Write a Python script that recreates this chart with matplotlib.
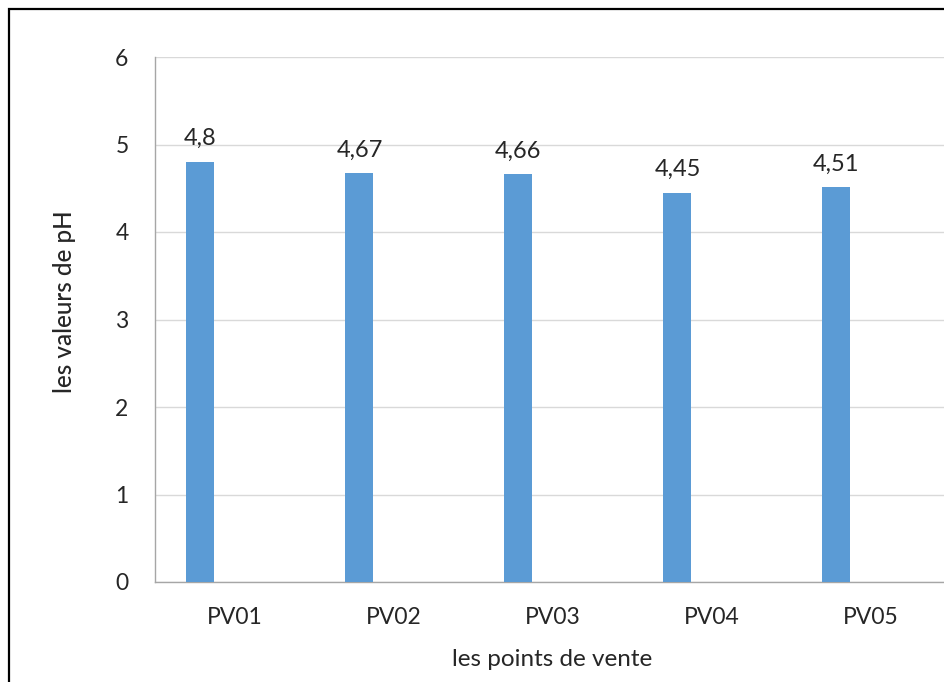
import numpy as np
import matplotlib.pyplot as plt
from matplotlib.patches import Rectangle

# valeurs de pH par point de vente
points = ["PV01", "PV02", "PV03", "PV04", "PV05"]
ph = [4.8, 4.67, 4.66, 4.45, 4.51]
ph_labels = ["4,8", "4,67", "4,66", "4,45", "4,51"]
yticks = [0, 1, 2, 3, 4, 5, 6]

plt.rcParams['font.family'] = ['Lato', 'DejaVu Sans']
txt = "#262626"

fig = plt.figure(figsize=(9.45, 6.82), dpi=100)
ax = fig.add_axes([155 / 945, 1 - 582 / 682, 795 / 945, 525 / 682])

x = np.arange(len(points))
bars = ax.bar(x - 0.214, ph, width=0.176, color="#5B9BD5", zorder=3)

for b, lab in zip(bars, ph_labels):
    ax.annotate(lab, (b.get_x() + b.get_width() / 2, b.get_height()),
                xytext=(0, 12), textcoords="offset points",
                ha="center", va="baseline", fontsize=17, color=txt)

ax.set_xlim(-0.5, len(points) - 0.5)
ax.set_ylim(0, 6)
ax.set_yticks(yticks)
ax.set_xticks(x)
ax.set_xticklabels(points)
ax.tick_params(axis="both", length=0, labelsize=16.5, colors=txt)
ax.tick_params(axis="y", pad=19)
ax.tick_params(axis="x", pad=18)
ax.yaxis.grid(True, color="#d9d9d9", linewidth=1, zorder=0)

for s in ["top", "right"]:
    ax.spines[s].set_visible(False)
for s in ["left", "bottom"]:
    ax.spines[s].set_color("#a6a6a6")
    ax.spines[s].set_linewidth(1)

ax.set_ylabel("les valeurs de pH", fontsize=17.5, color=txt, fontweight="medium")
ax.set_xlabel("les points de vente", fontsize=17.5, color=txt)
ax.xaxis.set_label_coords((552 - 155) / 795, -(660 - 582) / 525)
ax.yaxis.set_label_coords(-(155 - 65) / 795, (582 - 302) / 525)
ax.xaxis.label.set_va("center")
ax.yaxis.label.set_va("center")

# cadre noir autour du graphique (coupé à droite et en bas)
fig.patches.append(Rectangle((9 / 945, -0.1), 1.2, 1 - 9 / 682 + 0.1,
                             transform=fig.transFigure, fill=False,
                             edgecolor="black", linewidth=1.6))

fig.savefig("out.png", dpi=100)
